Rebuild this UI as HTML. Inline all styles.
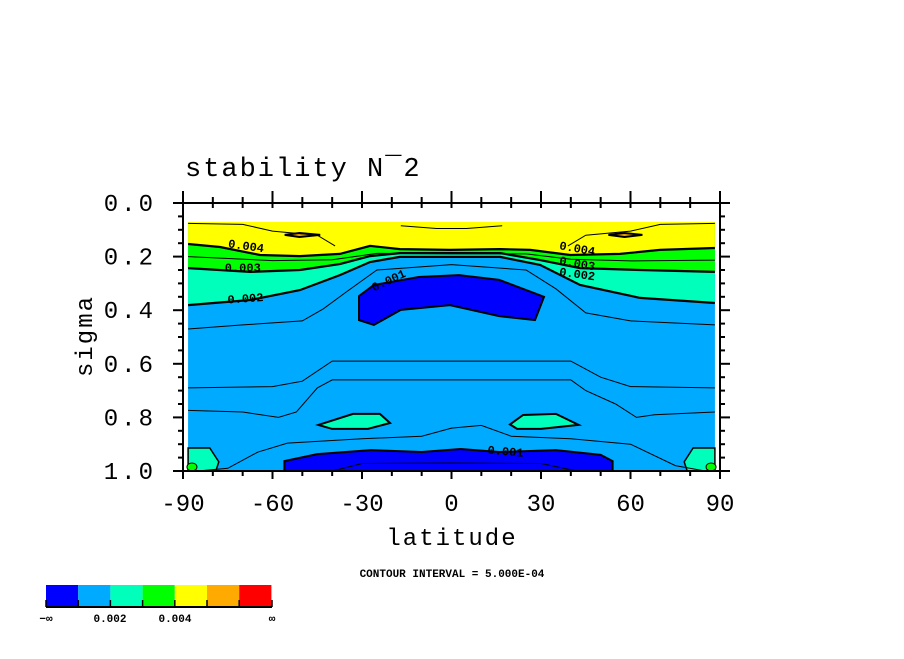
<!DOCTYPE html>
<html><head><meta charset="utf-8"><style>
body{margin:0;background:#fff;}
svg text{font-family:"Liberation Mono",monospace;}
</style></head><body>
<svg id="chart" width="904" height="654" xmlns="http://www.w3.org/2000/svg">
<g id="plot"></g>
<text x="185" y="176" font-size="27" letter-spacing="2">stability N¯2</text>
<text transform="translate(92,336) rotate(-90)" text-anchor="middle" font-size="24" letter-spacing="2">sigma</text>
<text x="452" y="545" text-anchor="middle" font-size="24" letter-spacing="2">latitude</text>
<text x="452" y="577" text-anchor="middle" font-size="11" font-weight="bold">CONTOUR INTERVAL = 5.000E-04</text>
<g id="colorbar"></g>
</svg>
<script>
const NS="http://www.w3.org/2000/svg";
const xTicks=[-90,-60,-30,0,30,60,90];
const yTicks=[0.0,0.2,0.4,0.6,0.8,1.0];
const levelColors=["#0000ff","#00aaff","#00ffbb","#00ff00","#ffff00","#ffaa00","#ff0000"];
const cbLabels=["−∞","0.002","0.004","∞"];
// contour boundaries as [latitude, sigma]
const c004=[[-88.3,0.153],[-77.6,0.164],[-64.2,0.194],[-50.8,0.198],[-37.4,0.19],[-27.3,0.16],[-17.3,0.172],[-0.5,0.175],[16.3,0.172],[26.4,0.175],[39.8,0.194],[56.5,0.19],[69.9,0.175],[88.3,0.168]];
const c003=[[-88.3,0.243],[-67.5,0.257],[-50.8,0.25],[-37.4,0.228],[-27.3,0.198],[-17.3,0.187],[-0.5,0.187],[16.3,0.187],[29.7,0.213],[43.1,0.243],[63.2,0.25],[88.3,0.257]];
const c002=[[-88.3,0.381],[-67.5,0.362],[-50.8,0.325],[-37.4,0.269],[-27.3,0.220],[-17.3,0.201],[-0.5,0.201],[16.3,0.201],[29.7,0.231],[43.1,0.306],[63.2,0.354],[88.3,0.373]];
const blueTop=[[-31,0.347],[-26,0.306],[-11,0.276],[2.5,0.269],[16,0.287],[31,0.35],[28,0.437],[16,0.422],[-0.5,0.381],[-17,0.399],[-26,0.455],[-31,0.437]];
const blueBot=[[-56,1.0],[-56,0.963],[-45,0.937],[-27,0.922],[-10,0.929],[3,0.918],[16,0.929],[35,0.922],[50,0.94],[54,0.963],[54,1.0]];
const aquaL=[[-44.6,0.828],[-33,0.787],[-24,0.787],[-20.6,0.821],[-28,0.843],[-40,0.843]];
const aquaR=[[19.6,0.826],[24,0.791],[35,0.787],[42.6,0.828],[30,0.843],[22,0.843]];
const cornerL=[[-88.3,1.0],[-88.3,0.914],[-81,0.914],[-78,0.966],[-79,1.0]];
const cornerR=[[88.3,1.0],[88.3,0.914],[81,0.914],[78,0.966],[79,1.0]];
const orangeL=[[-55.9,0.119],[-51,0.112],[-44,0.119],[-51,0.127]];
const orangeR=[[52.6,0.119],[58,0.112],[64,0.119],[58,0.127]];
const thinLines=[
 [[-88.3,0.076],[-70,0.08],[-60,0.105],[-45,0.12],[-39,0.16]],
 [[-17,0.085],[-5,0.095],[5,0.095],[17,0.085]],
 [[39,0.16],[45,0.12],[60,0.105],[70,0.08],[88.3,0.076]],
 [[-88.3,0.2],[-60,0.215],[-40,0.212],[-25,0.188],[0,0.19],[25,0.19],[40,0.21],[60,0.216],[88.3,0.213]],
 [[-88.3,0.47],[-70,0.455],[-50,0.44],[-43,0.395],[-35,0.33],[-25,0.25],[0,0.23],[25,0.25],[35,0.32],[45,0.41],[60,0.44],[88.3,0.455]],
 [[-88.3,0.69],[-60,0.685],[-50,0.665],[-40,0.59],[40,0.59],[50,0.65],[60,0.685],[88.3,0.69]],
 [[-88.3,0.774],[-70,0.78],[-58,0.8],[-52,0.78],[-45,0.69],[-40,0.66],[40,0.66],[45,0.7],[55,0.75],[62,0.8],[68,0.79],[88.3,0.78]],
 [[-85,1.0],[-75,0.99],[-65,0.93],[-55,0.896],[-30,0.88],[-10,0.87],[0,0.84],[10,0.83],[20,0.87],[40,0.88],[60,0.9],[75,0.98],[85,1.0]],
 [[-40,1.0],[-30,0.972],[0,0.97],[30,0.972],[42,1.0]]
];
const X0=183,X1=720,Y0=203,Y1=471;
const sx=l=>X0+(l+90)/180*(X1-X0);
const sy=s=>Y0+s*(Y1-Y0);
const pts=a=>a.map(p=>sx(p[0]).toFixed(1)+","+sy(p[1]).toFixed(1)).join(" ");
const plot=document.getElementById("plot");
function add(tag,attrs,parent){const e=document.createElementNS(NS,tag);for(const k in attrs)e.setAttribute(k,attrs[k]);(parent||plot).appendChild(e);return e;}
const topS=0.071,Lm=-88.3,Rm=88.3;
let bg=add("rect",{x:sx(Lm),y:sy(topS),width:sx(Rm)-sx(Lm),height:sy(1)-sy(topS),fill:levelColors[1]});


function band(upper,lower,color,name){
 const poly=upper.concat(lower.slice().reverse());
 const el=add("polygon",{points:pts(poly),fill:color});
 
 
}
const topEdge=[[Lm,topS],[Rm,topS]];
band(topEdge,c002,levelColors[2],'band-aqua');
band(topEdge,c003,levelColors[3],'band-green');
band(topEdge,c004,levelColors[4],'band-yellow');
function region(p,color,name,w){
 const el=add("polygon",{points:pts(p),fill:color,stroke:"#000","stroke-width":w});
 
 
}
region(orangeL,levelColors[5],'orange-patch-left',2);
region(orangeR,levelColors[5],'orange-patch-right',2);
region(blueTop,levelColors[0],'low-stability-upper',2);
region(blueBot,levelColors[0],'low-stability-surface',2);
region(aquaL,levelColors[2],'aqua-patch-left',2);
region(aquaR,levelColors[2],'aqua-patch-right',2);
region(cornerL,levelColors[2],'corner-patch-left',1.5);
region(cornerR,levelColors[2],'corner-patch-right',1.5);
[[-87,0.985],[87,0.985]].forEach((p,i)=>{
 const el=add("ellipse",{cx:sx(p[0]),cy:sy(p[1]),rx:5,ry:4,fill:levelColors[3],stroke:"#000","stroke-width":1});
 
 
});
[c004,c003,c002].forEach((c,i)=>{
 const el=add("polyline",{points:pts(c),fill:"none",stroke:"#000","stroke-width":2.2});
 
 
});
thinLines.forEach((c,i)=>{
 const el=add("polyline",{points:pts(c),fill:"none",stroke:"#000","stroke-width":1});
 
 
});
const labs=[["0.004",-75,0.165,8],["0.003",-76,0.255,0],["0.002",-75,0.375,-4],["0.001",-26,0.33,-25],["0.004",36,0.172,10],["0.003",36,0.228,10],["0.002",36,0.27,8],["0.001",12,0.935,5]];
labs.forEach(l=>{
 const t=add("text",{x:sx(l[1]),y:sy(l[2]),"font-size":12,"font-weight":"bold",transform:`rotate(${l[3]} ${sx(l[1])} ${sy(l[2])})`});
 t.textContent=l[0];
 
 
});
const fr=add("rect",{x:X0,y:Y0,width:X1-X0,height:Y1-Y0,fill:"none",stroke:"#000","stroke-width":2});


for(let l=-90;l<=90;l+=10){
 const maj=l%30===0;
 add("line",{x1:sx(l),x2:sx(l),y1:Y1,y2:Y1+(maj?8:5),stroke:"#000","stroke-width":2});
 add("line",{x1:sx(l),x2:sx(l),y1:Y0,y2:Y0-(maj?12:6),stroke:"#000","stroke-width":2});
 add("line",{x1:sx(l),x2:sx(l),y1:Y0,y2:Y0+5,stroke:"#000","stroke-width":2});
}
for(let k=0;k<=20;k++){
 const s=k*0.05, maj=k%4===0;
 [X0,X1].forEach(xx=>{
  const d=xx===X0?-1:1;
  add("line",{x1:xx,x2:xx+d*(maj?10:5),y1:sy(s),y2:sy(s),stroke:"#000","stroke-width":2});
 });
}
xTicks.forEach(v=>{
 const t=add("text",{x:sx(v),y:Y1+40,"text-anchor":"middle","font-size":24});
 t.textContent=v;
 
 
});
yTicks.forEach(v=>{
 const t=add("text",{x:156,y:sy(v)+8,"text-anchor":"end","font-size":24,"letter-spacing":"3"});
 t.textContent=v.toFixed(1);
 
 
});
const cb=document.getElementById("colorbar");
levelColors.forEach((c,i)=>{
 const r=add("rect",{x:46+i*32.2,y:585,width:32.2,height:21,fill:c},cb);
 
 
 add("line",{x1:46+i*32.2,x2:46+i*32.2,y1:600,y2:607,stroke:"#000","stroke-width":1.5},cb);
});
add("line",{x1:46,x2:272,y1:607,y2:607,stroke:"#000","stroke-width":2},cb);
add("line",{x1:272,x2:272,y1:600,y2:607,stroke:"#000","stroke-width":1.5},cb);
const cbx=[46,110,175,272];
cbLabels.forEach((s,i)=>{
 const t=add("text",{x:cbx[i],y:622,"text-anchor":"middle","font-size":11,"font-weight":"bold"},cb);
 t.textContent=s;
 
 
});
</script>
</body></html>
